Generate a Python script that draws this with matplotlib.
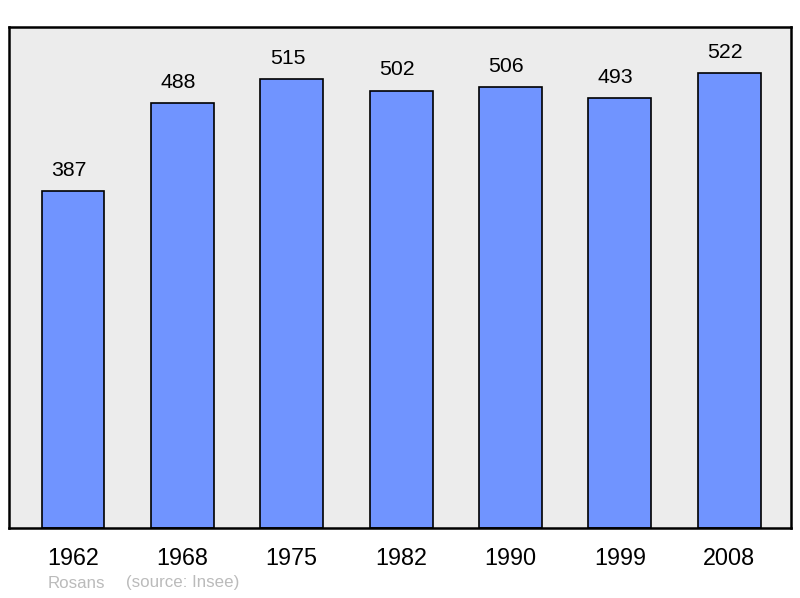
import matplotlib
matplotlib.use("Agg")
import matplotlib.pyplot as plt

years = ["1962", "1968", "1975", "1982", "1990", "1999", "2008"]
population = [387, 488, 515, 502, 506, 493, 522]
commune = "Rosans"
source = "(source: Insee)"

plt.rcParams['font.family'] = ['Liberation Sans', 'DejaVu Sans']

fig = plt.figure(figsize=(8.0, 5.98), dpi=100)
W, H = 800, 598
ax = fig.add_axes([9 / W, 1 - 528 / H, (791 - 9) / W, (528 - 27) / H])
ax.set_facecolor("#ececec")

x = list(range(len(years)))
ax.bar(x, population, width=0.575, color="#7094ff", edgecolor="black", linewidth=1.2, zorder=2)
for xi, v in zip(x, population):
    ax.annotate(str(v), (xi, v), xytext=(-3, 11), textcoords="offset points",
                ha="center", va="baseline", fontsize=15.3, color="black")

ax.set_xlim(-0.585, 6.565)
ax.set_ylim(0, 575)
ax.set_xticks(x)
ax.set_xticklabels(years, fontsize=16.8)
ax.tick_params(axis="x", length=0, pad=14)
ax.set_yticks([])
for s in ax.spines.values():
    s.set_linewidth(1.8)
    s.set_color("black")

fig.text(48 / W, 1 - 583 / H, commune, fontsize=12.2, color="#bbbbbb",
         ha="left", va="center")
fig.text(126 / W, 1 - 583 / H, source, fontsize=12.2, color="#bbbbbb",
         ha="left", va="center")

fig.savefig("out.png", dpi=100, facecolor="white")
